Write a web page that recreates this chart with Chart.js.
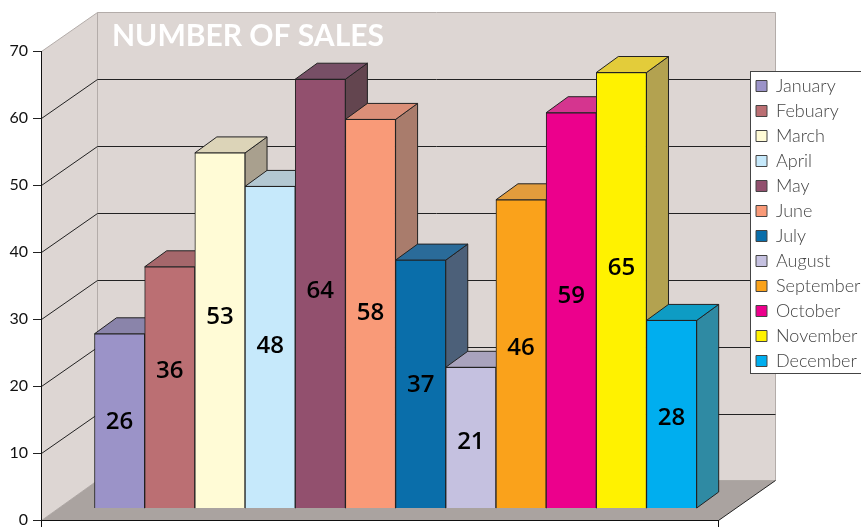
<!DOCTYPE html>
<html>
<head>
<meta charset="utf-8">
<style>html,body{margin:0;padding:0;background:#fff;overflow:hidden}canvas{display:block}</style>
<script src="https://cdn.jsdelivr.net/npm/chart.js@4"></script>
</head>
<body>
<canvas id="c" width="861" height="527"></canvas>
<script>
const months = ['January','Febuary','March','April','May','June','July','August','September','October','November','December'];
const sales = [26,36,53,48,64,58,37,21,46,59,65,28];
const labelHeights = [12.8,20.5,28.5,24.1,32.3,29.1,18.3,9.9,23.8,31.6,35.8,13.4];
const yTicks = [0,10,20,30,40,50,60,70];
const frontColors = ['#9b93c8','#bb6f73','#fffbd6','#c6e9fb','#92506e','#f99a78','#0a6eaa','#c5c1e0','#faa21b','#ec008c','#fff200','#00aeef'];
const topColors = ['#8a84aa','#a5676b','#dcd4b8','#b3c8d2','#774f66','#db8f78','#2a6b99','#a9a3bd','#e29c3c','#d5358f','#e3cc3a','#0e9cc4'];
const sideColors = ['#76718f','#8a5a5e','#a9a08e','#8ea0a8','#63454f','#a97c6c','#4c6079','#8c8a9c','#b08d4e','#a03a70','#b3a250','#2f8aa3'];

const FONT = 'Lato, "Open Sans", sans-serif';
const WALL_DX = 56, WALL_DY = 40, BAR_DX = 22, BAR_DY = 16;

function poly(ctx, pts, fill, stroke) {
  ctx.beginPath();
  pts.forEach((p, i) => i ? ctx.lineTo(p[0], p[1]) : ctx.moveTo(p[0], p[1]));
  ctx.closePath();
  if (fill) { ctx.fillStyle = fill; ctx.fill(); }
  if (stroke) { ctx.strokeStyle = stroke; ctx.lineWidth = 1; ctx.stroke(); }
}

const scene = {
  id: 'scene',
  afterLayout(chart) {
    const lg = chart.legend;
    lg.left = 749; lg.right = 900; lg.top = 70; lg.bottom = 420;
    chart.titleBlock.left = 112;
  },
  beforeDraw(chart) {
    const { ctx, chartArea: a, scales } = chart;
    const L = a.left + 0.5, R = a.right + 0.5, T = a.top + 0.5, B = a.bottom + 0.5;
    ctx.save();
    poly(ctx, [[L + WALL_DX, T - 39],[R + 57, T - 39],[R + 57, B - WALL_DY],[L + WALL_DX, B - WALL_DY]], '#ddd6d3', '#b3aca9');
    poly(ctx, [[L, T],[L + WALL_DX, T - 39],[L + WALL_DX, B - WALL_DY],[L, B]], '#ddd6d3', '#b3aca9');
    poly(ctx, [[L, B],[L + WALL_DX, B - WALL_DY],[R + 57, B - WALL_DY],[R, B]], '#aaa3a0');
    ctx.strokeStyle = '#222'; ctx.lineWidth = 1;
    ctx.beginPath(); ctx.moveTo(R, B); ctx.lineTo(R + 57, B - WALL_DY); ctx.stroke();
    yTicks.slice(1, -1).forEach(v => {
      const y = Math.round(scales.y.getPixelForValue(v)) + 0.5;
      const yb = Math.round(y - WALL_DY) + 0.5;
      ctx.beginPath();
      ctx.moveTo(L, y); ctx.lineTo(L + WALL_DX, yb); ctx.lineTo(R + 57, yb);
      ctx.stroke();
    });
    ctx.fillStyle = '#fff'; ctx.strokeStyle = '#444';
    ctx.fillRect(751, 71, 140, 302);
    ctx.strokeRect(750.5, 71.5, 140, 302);
    ctx.restore();
  },
  beforeDatasetsDraw(chart) {
    const { ctx } = chart;
    ctx.save();
    chart.getDatasetMeta(0).data.forEach((bar, i) => {
      const p = bar.getProps(['x','y','base','width'], true);
      const l = p.x - p.width / 2, r = p.x + p.width / 2, t = p.y, b = p.base;
      poly(ctx, [[r, t],[r + BAR_DX, t - BAR_DY],[r + BAR_DX, b - BAR_DY],[r, b]], sideColors[i], '#222');
      poly(ctx, [[l, t],[l + BAR_DX, t - BAR_DY],[r + BAR_DX, t - BAR_DY],[r, t]], topColors[i], '#222');
    });
    ctx.restore();
  },
  afterDatasetsDraw(chart) {
    const { ctx, scales } = chart;
    ctx.save();
    ctx.font = '600 24px "Open Sans", sans-serif';
    ctx.fillStyle = '#000';
    ctx.textAlign = 'center';
    ctx.textBaseline = 'middle';
    chart.getDatasetMeta(0).data.forEach((bar, i) => {
      ctx.fillText(String(sales[i]), bar.x, scales.yBars.getPixelForValue(labelHeights[i]));
    });
    ctx.restore();
  }
};

new Chart(document.getElementById('c'), {
  type: 'bar',
  data: {
    datasets: [{
      label: 'Number of sales',
      data: sales.map((v, i) => ({ x: i, y: v })),
      backgroundColor: frontColors,
      borderColor: '#222',
      borderWidth: 1,
      barPercentage: 1,
      categoryPercentage: 1,
      xAxisID: 'x',
      yAxisID: 'yBars'
    }]
  },
  options: {
    responsive: false,
    animation: false,
    layout: { padding: { left: 0, top: 0, right: 143, bottom: 0 } },
    scales: {
      x: {
        type: 'linear',
        min: -1.566,
        max: 11.925,
        offset: false,
        grid: { offset: false, drawOnChartArea: false, tickLength: 7, color: '#111' },
        border: { color: '#111' },
        ticks: { display: false },
        afterBuildTicks(s) { s.ticks = [{ value: s.min }, { value: s.max }]; },
        afterFit(s) { s.height = 7; s.paddingLeft = 0; s.paddingRight = 0; }
      },
      y: {
        type: 'linear',
        min: 0,
        max: 70,
        position: 'left',
        grid: { drawOnChartArea: false, tickLength: 8, color: '#222' },
        border: { color: '#111' },
        ticks: { stepSize: 10, color: '#111', padding: 5, font: { family: FONT, size: 16 } },
        afterFit(s) { s.width = 41; s.paddingTop = 0; s.paddingBottom = 0; }
      },
      yBars: {
        type: 'linear',
        display: false,
        min: -1.79,
        max: 68.21
      }
    },
    plugins: {
      title: {
        display: true,
        text: 'NUMBER OF SALES',
        align: 'start',
        color: '#fff',
        padding: { top: 21, bottom: 0 },
        font: { family: FONT, size: 30, weight: 'bold', lineHeight: 1 }
      },
      legend: {
        display: true,
        position: 'chartArea',
        align: 'start',
        labels: {
          boxWidth: 11,
          boxHeight: 11,
          padding: 7,
          color: '#444',
          font: { family: FONT, size: 18, weight: 300, lineHeight: 1 },
          generateLabels() {
            return months.map((m, i) => ({
              text: m, fillStyle: frontColors[i], strokeStyle: '#444', lineWidth: 1,
              fontColor: '#444', hidden: false, index: i, datasetIndex: 0
            }));
          }
        }
      },
      tooltip: { enabled: false }
    }
  },
  plugins: [scene]
});
</script>
</body>
</html>
